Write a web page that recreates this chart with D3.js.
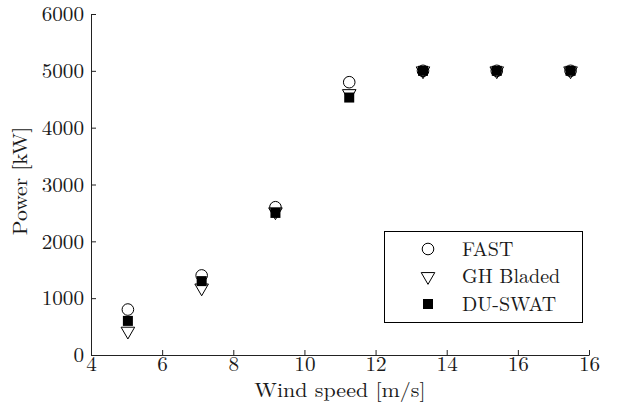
<!DOCTYPE html>
<html>
<head>
<meta charset="utf-8">
<script src="https://cdn.jsdelivr.net/npm/d3@7"></script>
<style>
  body { margin: 0; background: #fff; }
</style>
</head>
<body>
<svg width="623" height="411"></svg>
<script>
// data
const windSpeed = [5, 7, 9, 11, 13, 15, 17];
const fast     = [800, 1400, 2600, 4800, 5000, 5000, 5000];
const bladed   = [420, 1180, 2520, 4600, 5000, 5000, 5000];
const duswat   = [600, 1300, 2500, 4530, 5000, 5000, 5000];
const seriesNames = ["FAST", "GH Bladed", "DU-SWAT"];

// axis ticks (the original figure labels its last tick "16" again)
const xTickValues = [4, 6, 8, 10, 12, 14, 16, 18];
const xTickLabels = ["4", "6", "8", "10", "12", "14", "16", "16"];
const yTickValues = [0, 1000, 2000, 3000, 4000, 5000, 6000];

const svg = d3.select("svg");
const mLeft = 91, mRight = 589, mTop = 14, mBottom = 355;
const font = "'Latin Modern Roman', 'CMU Serif', 'Liberation Serif', serif";
const ink = "#1a1a1a";

// tick axis and marker axis don't line up in the source figure
const xTick = d3.scaleLinear().domain([4, 18]).range([mLeft, mRight]);
const x = d3.scaleLinear().domain([4, 17.5]).range([mLeft, mRight]);
const y = d3.scaleLinear().domain([0, 6000]).range([mBottom, mTop]);

// axes
const gx = svg.append("g").attr("transform", "translate(0," + mBottom + ")")
  .call(d3.axisBottom(xTick).tickValues(xTickValues)
    .tickFormat((d, i) => xTickLabels[i]).tickSizeInner(-5).tickSizeOuter(0).tickPadding(0));
gx.select(".domain").attr("stroke", "#222");
gx.selectAll(".tick line").attr("stroke", "#222");
gx.selectAll(".tick text").style("font-family", font).attr("font-size", 20)
  .attr("y", 16).attr("dy", null).attr("fill", ink)
  .attr("transform", "scale(1.06,1)");

const gy = svg.append("g").attr("transform", "translate(" + mLeft + ",0)")
  .call(d3.axisLeft(y).tickValues(yTickValues).tickFormat(d3.format("d"))
    .tickSizeInner(-5).tickSizeOuter(0).tickPadding(0));
gy.select(".domain").attr("stroke", "#222");
gy.selectAll(".tick line").attr("stroke", "#222");
gy.selectAll(".tick text").style("font-family", font).attr("font-size", 20)
  .attr("x", -7 / 1.06).attr("dy", "0.34em").attr("fill", ink)
  .attr("transform", "scale(1.06,1)");

// axis titles
svg.append("text")
  .attr("transform", "translate(" + (mLeft + mRight) / 2 + ",397) scale(1.1,1)")
  .attr("text-anchor", "middle").attr("font-size", 20).attr("fill", ink)
  .style("font-family", font)
  .text("Wind speed [m/s]");
svg.append("text")
  .attr("transform", "translate(27,181) rotate(-90) scale(1.08,1)")
  .attr("text-anchor", "middle").attr("font-size", 20).attr("fill", ink)
  .style("font-family", font)
  .text("Power [kW]");

// markers
const tri = d3.symbol().type(d3.symbolTriangle).size(80);
function drawCircle(g, cx, cy) {
  g.append("circle").attr("cx", cx).attr("cy", cy).attr("r", 5.8)
    .attr("fill", "none").attr("stroke", "#000").attr("stroke-width", 1);
}
function drawTri(g, cx, cy) {
  g.append("path").attr("d", tri)
    .attr("transform", "translate(" + cx + "," + cy + ") rotate(180)")
    .attr("fill", "none").attr("stroke", "#000").attr("stroke-width", 1);
}
function drawSquare(g, cx, cy) {
  g.append("rect").attr("x", cx - 5).attr("y", cy - 5).attr("width", 10).attr("height", 10)
    .attr("fill", "#000");
}

const pts = svg.append("g");
windSpeed.forEach((w, i) => drawCircle(pts, x(w), y(fast[i])));
windSpeed.forEach((w, i) => drawTri(pts, x(w), y(bladed[i])));
windSpeed.forEach((w, i) => drawSquare(pts, x(w), y(duswat[i])));

// legend
const lg = svg.append("g");
lg.append("rect").attr("x", 384.5).attr("y", 231.5).attr("width", 198).attr("height", 91)
  .attr("fill", "#fff").attr("stroke", "#000").attr("stroke-width", 1);
const drawers = [drawCircle, drawTri, drawSquare];
seriesNames.forEach((name, i) => {
  const ry = 249 + i * 27.5;
  drawers[i](lg, 428, ry);
  lg.append("text")
    .attr("x", 462).attr("y", ry).attr("dy", "0.34em")
    .attr("font-size", 20).attr("fill", ink)
    .style("font-family", font)
    .text(name);
});
</script>
</body>
</html>
